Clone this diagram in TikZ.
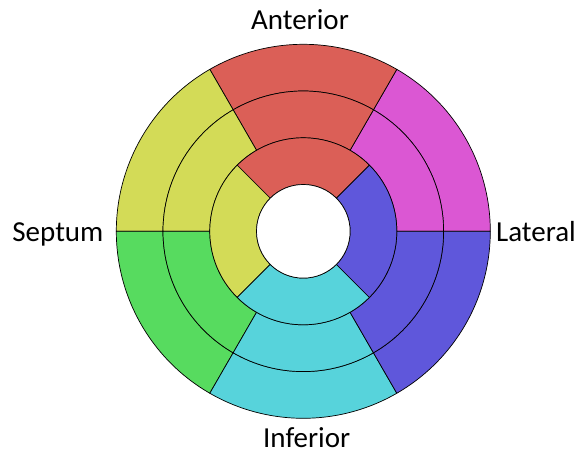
\documentclass[tikz,border=0pt]{standalone}
\usepackage{fontspec}
\setmainfont{Carlito}
\definecolor{cred}{HTML}{DB5F57}
\definecolor{cyel}{HTML}{D3DB57}
\definecolor{cgrn}{HTML}{57DB5F}
\definecolor{ccya}{HTML}{57D3DB}
\definecolor{cblu}{HTML}{5F57DB}
\definecolor{cmag}{HTML}{DB57D3}
\newcommand{\annsector}[5]{% color, a1, a2, r1, r2
  \filldraw[seg,fill=#1] (c) ++(#2:#5) arc[start angle=#2,end angle=#3,radius=#5]
    -- ($(c)+(#3:#4)$) arc[start angle=#3,end angle=#2,radius=#4] -- cycle;}
\usetikzlibrary{calc}
\begin{document}
\begin{tikzpicture}[x=1pt,y=1pt,
  seg/.style={draw=black,line width=0.7pt,line join=round},
  lbl/.style={anchor=base,inner sep=0pt,font=\fontsize{29}{34}\selectfont}]
\useasboundingbox (0,0) rectangle (580,453);
\coordinate (c) at (303.3,221.7);
% outer (basal) and mid rings
\foreach \r/\R in {140.3/187, 93.5/140.3}{
  \annsector{cmag}{0}{60}{\r}{\R}
  \annsector{cred}{60}{120}{\r}{\R}
  \annsector{cyel}{120}{180}{\r}{\R}
  \annsector{cgrn}{180}{240}{\r}{\R}
  \annsector{ccya}{240}{300}{\r}{\R}
  \annsector{cblu}{300}{360}{\r}{\R}
}
% apical ring
\annsector{cred}{45}{135}{46.8}{93.5}
\annsector{cyel}{135}{225}{46.8}{93.5}
\annsector{ccya}{225}{315}{46.8}{93.5}
\annsector{cblu}{315}{405}{46.8}{93.5}
\filldraw[seg,fill=white] (c) circle[radius=46.8];
% labels
\node[lbl] (ant) at (300,423.7) {Anterior};
\node[lbl] (sep) at (57.9,211.3) {Septum};
\node[lbl] (lat) at (536,211.3) {Lateral};
\node[lbl] (inf) at (306.7,6) {Inferior};
\end{tikzpicture}
\end{document}
